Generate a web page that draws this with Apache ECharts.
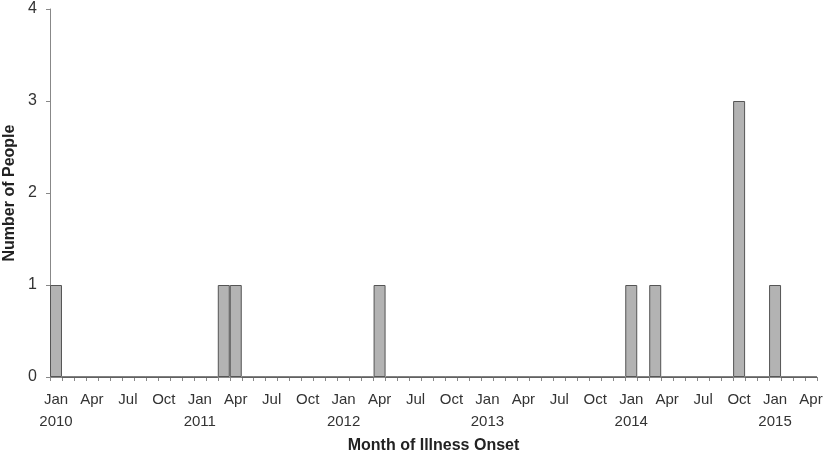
<!DOCTYPE html>
<html>
<head>
<meta charset="utf-8">
<script src="https://cdn.jsdelivr.net/npm/echarts@6/dist/echarts.min.js"></script>
<style>
  html, body { margin: 0; padding: 0; background: #fff; }
  #main { width: 824px; height: 456px; }
</style>
</head>
<body>
<div id="main"></div>
<script>
// months Jan 2010 .. Apr 2015
const monthNames = ['Jan','Feb','Mar','Apr','May','Jun','Jul','Aug','Sep','Oct','Nov','Dec'];
const years = [2010, 2011, 2012, 2013, 2014, 2015];
const lastYearMonths = 4;

// onset counts by month (only non-zero months listed)
const onsetMonths = ['2010-01','2011-03','2011-04','2012-04','2014-01','2014-03','2014-10','2015-01'];
const onsetCounts = [1, 1, 1, 1, 1, 1, 3, 1];

const yTicks = [0, 1, 2, 3, 4];

const categories = [];
years.forEach((y, yi) => {
  const n = yi === years.length - 1 ? lastYearMonths : 12;
  for (let m = 0; m < n; m++) {
    categories.push(y + '-' + String(m + 1).padStart(2, '0'));
  }
});
const values = categories.map(c => {
  const i = onsetMonths.indexOf(c);
  return i >= 0 ? onsetCounts[i] : 0;
});

const font = 'Liberation Sans';
const chart = echarts.init(document.getElementById('main'));
chart.setOption({
  animation: false,
  grid: { left: 50, right: 7, top: 9, bottom: 79, containLabel: false, outerBoundsMode: 'none' },
  xAxis: {
    type: 'category',
    data: categories,
    name: 'Month of Illness Onset',
    nameLocation: 'middle',
    nameGap: 61,
    nameTextStyle: { fontFamily: font, fontWeight: 'bold', fontSize: 16, color: '#222' },
    axisLine: { lineStyle: { color: '#888', width: 1 } },
    axisTick: { show: true, interval: 0, length: 4, lineStyle: { color: '#888' } },
    axisLabel: {
      interval: 2,
      margin: 12,
      fontFamily: font,
      fontSize: 15,
      color: '#333',
      lineHeight: 22,
      formatter: (v) => {
        const [y, m] = v.split('-');
        const name = monthNames[parseInt(m, 10) - 1];
        return m === '01' ? name + '\n' + y : name;
      }
    }
  },
  yAxis: {
    type: 'value',
    min: yTicks[0],
    max: yTicks[yTicks.length - 1],
    interval: 1,
    name: 'Number of People',
    nameLocation: 'middle',
    nameGap: 32,
    nameTextStyle: { fontFamily: font, fontWeight: 'bold', fontSize: 16, color: '#222' },
    axisLine: { show: true, lineStyle: { color: '#888', width: 1 } },
    axisTick: { show: true, length: 4, lineStyle: { color: '#888' } },
    axisLabel: { fontFamily: font, fontSize: 16, color: '#333', margin: 13 },
    splitLine: { show: false }
  },
  series: [{
    type: 'bar',
    data: values,
    barCategoryGap: '0%',
    itemStyle: { color: '#b3b3b3', borderColor: '#555', borderWidth: 1 }
  }]
});
</script>
</body>
</html>
